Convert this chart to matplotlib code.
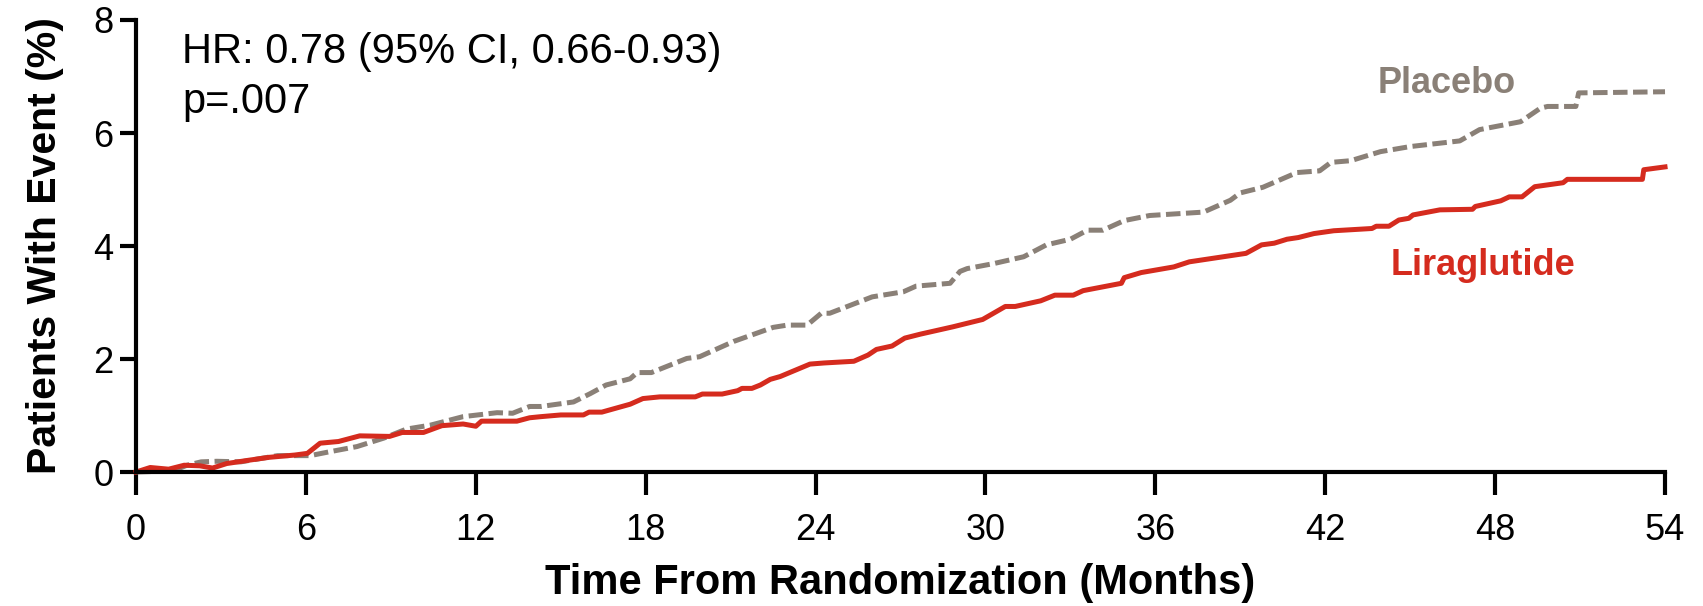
import matplotlib.pyplot as plt

plt.rcParams['font.family'] = ['Liberation Sans', 'DejaVu Sans']

# Cumulative incidence read at each change point (months, % with event)
lira_months = [0, 0.5, 1.15, 1.7, 2.25, 2.7, 3.2, 4.0, 4.7, 5.6, 6.05, 6.5, 7.15, 7.9,
               8.95, 9.4, 10.15, 10.8, 11.55, 12.0, 12.2, 13.45, 13.9, 14.3, 15.0, 15.8,
               16.0, 16.45, 17.45, 17.9, 18.5, 19.75, 20.0, 20.7, 21.25, 21.4, 21.75,
               22.05, 22.4, 22.75, 23.8, 24.3, 25.35, 25.85, 26.15, 26.7, 27.15, 27.7,
               28.85, 29.9, 30.7, 31.05, 31.95, 32.45, 33.1, 33.45, 34.8, 34.9, 35.5,
               36.65, 37.2, 39.2, 39.75, 40.2, 40.65, 41.05, 41.6, 42.3, 43.65, 43.8,
               44.25, 44.6, 44.95, 45.1, 46.05, 47.2, 47.3, 48.2, 48.5, 48.95, 49.4,
               50.4, 50.55, 53.2, 53.25, 54.0]
lira_pct = [0, 0.08, 0.05, 0.12, 0.11, 0.07, 0.15, 0.21, 0.26, 0.30, 0.33, 0.51, 0.54, 0.64,
            0.63, 0.70, 0.70, 0.82, 0.85, 0.81, 0.90, 0.90, 0.96, 0.98, 1.01, 1.01,
            1.06, 1.06, 1.20, 1.30, 1.33, 1.33, 1.38, 1.38, 1.44, 1.48, 1.48,
            1.54, 1.64, 1.69, 1.91, 1.93, 1.96, 2.07, 2.17, 2.23, 2.37, 2.44,
            2.57, 2.70, 2.93, 2.93, 3.03, 3.13, 3.13, 3.21, 3.34, 3.44, 3.53,
            3.63, 3.72, 3.87, 4.02, 4.05, 4.12, 4.15, 4.22, 4.27, 4.31, 4.35,
            4.35, 4.46, 4.49, 4.55, 4.64, 4.65, 4.70, 4.80, 4.87, 4.87, 5.05,
            5.12, 5.18, 5.18, 5.35, 5.40]

plac_months = [0, 1.3, 1.8, 2.3, 2.85, 3.7, 5.0, 6.15, 6.85, 7.8, 8.75, 9.55, 10.4, 11.55,
               12.75, 13.3, 13.9, 14.3, 15.45, 16.05, 16.6, 17.45, 17.7, 18.2, 19.45,
               19.9, 21.1, 22.5, 23.0, 23.7, 24.2, 24.5, 26.0, 27.1, 27.55, 28.75, 29.1,
               29.35, 30.3, 31.35, 32.15, 33.0, 33.6, 34.15, 34.9, 35.8, 37.7, 38.65,
               39.0, 39.8, 41.0, 41.8, 42.2, 42.9, 43.95, 45.0, 46.75, 47.45, 48.9,
               49.6, 49.85, 50.85, 50.95, 54.0]
plac_pct = [0, 0.02, 0.12, 0.18, 0.19, 0.18, 0.29, 0.29, 0.36, 0.45, 0.60, 0.76, 0.83, 0.98,
            1.05, 1.04, 1.16, 1.16, 1.24, 1.39, 1.54, 1.65, 1.76, 1.76, 2.01,
            2.04, 2.31, 2.56, 2.60, 2.60, 2.81, 2.81, 3.10, 3.19, 3.29, 3.34, 3.55,
            3.60, 3.69, 3.81, 4.02, 4.12, 4.28, 4.28, 4.45, 4.54, 4.60, 4.81,
            4.94, 5.04, 5.30, 5.33, 5.48, 5.51, 5.67, 5.76, 5.86, 6.06, 6.20,
            6.44, 6.47, 6.47, 6.71, 6.73]

x_ticks = [0, 6, 12, 18, 24, 30, 36, 42, 48, 54]
y_ticks = [0, 2, 4, 6, 8]

RED = '#D52B1E'
GREY = '#8A8077'

fig = plt.figure(figsize=(17.03, 6.06), dpi=100)
ax = fig.add_axes([0.0799, 0.2211, 0.8978, 0.7459])

ax.plot(plac_months, plac_pct, color=GREY, lw=3.6, dashes=(2.9, 1.1),
        clip_on=False, zorder=3)
ax.plot(lira_months, lira_pct, color=RED, lw=3.6, clip_on=False, zorder=4)

ax.set_xlim(0, 54)
ax.set_ylim(0, 8)
ax.set_xticks(x_ticks)
ax.set_yticks(y_ticks)

for side in ['top', 'right']:
    ax.spines[side].set_visible(False)
for side in ['left', 'bottom']:
    ax.spines[side].set_linewidth(3.0)
    ax.spines[side].set_zorder(5)

ax.tick_params(axis='x', length=16.5, width=3.0, pad=13, labelsize=26)
ax.tick_params(axis='y', length=11.5, width=3.0, pad=5, labelsize=26)

ax.set_xlabel('Time From Randomization (Months)', fontsize=30, fontweight='bold', labelpad=11)
ax.set_ylabel('Patients With Event (%)', fontsize=29.5, fontweight='bold', labelpad=21)

ax.text(1.62, 7.24, 'HR: 0.78 (95% CI, 0.66-0.93)', fontsize=30, va='baseline', ha='left')
ax.text(1.62, 6.35, 'p=.007', fontsize=30, va='baseline', ha='left')

ax.text(43.84, 6.70, 'Placebo', color=GREY, fontsize=26, fontweight='bold', va='baseline')
ax.text(44.3, 3.49, 'Liraglutide', color=RED, fontsize=26, fontweight='bold', va='baseline')

fig.savefig('out.png', dpi=100)
